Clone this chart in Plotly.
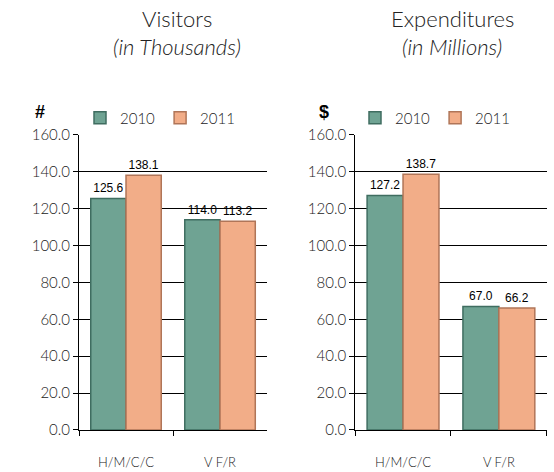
import plotly.graph_objects as go

categories = ["H/M/C/C", "V F/R"]
visitors_2010 = [125.6, 114.0]
visitors_2011 = [138.1, 113.2]
spend_2010 = [127.2, 67.0]
spend_2011 = [138.7, 66.2]
years = ["2010", "2011"]
colors = {"2010": "#6fa393", "2011": "#f2ad88"}
edge = {"2010": "#3f6d60", "2011": "#b07558"}

fig = go.Figure()

panels = [
    ("x", "y", "legend", [visitors_2010, visitors_2011]),
    ("x2", "y2", "legend2", [spend_2010, spend_2011]),
]
for xa, ya, lg, series in panels:
    for yr, vals in zip(years, series):
        fig.add_trace(go.Bar(
            x=categories, y=vals, name=yr, xaxis=xa, yaxis=ya, legend=lg,
            marker=dict(color=colors[yr], line=dict(color=edge[yr], width=1.5)),
            text=[f"{v:.1f}" for v in vals], textposition="outside",
            textfont=dict(family="Arial", size=12, color="black"),
            cliponaxis=False,
        ))

light = dict(family="Lato", weight=300, color="#222222")
yax = dict(range=[0, 160], dtick=20, tickformat=".1f", showgrid=True, gridcolor="black",
           gridwidth=1, showline=True, linecolor="black", ticks="outside", ticklen=5,
           tickcolor="black", tickfont=dict(size=15, **light), zeroline=False, automargin=False)
xax = dict(showline=True, linecolor="black", ticks="outside", tickson="boundaries", ticklen=5,
           tickcolor="black", ticklabelstandoff=20, tickfont=dict(size=13, **light),
           showgrid=False, automargin=False)

leg = dict(orientation="h", y=1 - 118 / 472, xanchor="left", yanchor="middle",
           font=dict(size=15, **light), itemwidth=30, bgcolor="rgba(0,0,0,0)", tracegroupgap=0)


def label(text, x, y, font):
    return dict(text=text, x=x / 554, y=1 - y / 472, xref="paper", yref="paper", showarrow=False,
                xanchor="center", yanchor="middle", font=font)


fig.update_layout(
    width=554, height=472, margin=dict(l=0, r=0, t=0, b=0, autoexpand=False),
    paper_bgcolor="white", plot_bgcolor="white",
    barmode="group", bargap=0.25, bargroupgap=0,
    xaxis=dict(domain=[0.1426, 0.482], anchor="y", **xax),
    yaxis=dict(domain=[0.089, 0.714], anchor="x", **yax),
    xaxis2=dict(domain=[0.641, 0.987], anchor="y2", **xax),
    yaxis2=dict(domain=[0.089, 0.714], anchor="x2", **yax),
    legend=dict(x=80 / 554, **leg),
    legend2=dict(x=355 / 554, **leg),
    annotations=[
        label("Visitors", 177, 18, dict(size=22, **light)),
        label("<i>(in Thousands)</i>", 177, 47, dict(size=22, **light)),
        label("Expenditures", 452, 18, dict(size=22, **light)),
        label("<i>(in Millions)</i>", 452, 47, dict(size=22, **light)),
        label("<b>#</b>", 40, 112, dict(family="Arial", size=18, color="black")),
        label("<b>$</b>", 324, 112, dict(family="Arial", size=18, color="black")),
    ],
)

fig.write_html("out.html", config={"displayModeBar": False},
               post_script="document.body.style.margin='0';")
